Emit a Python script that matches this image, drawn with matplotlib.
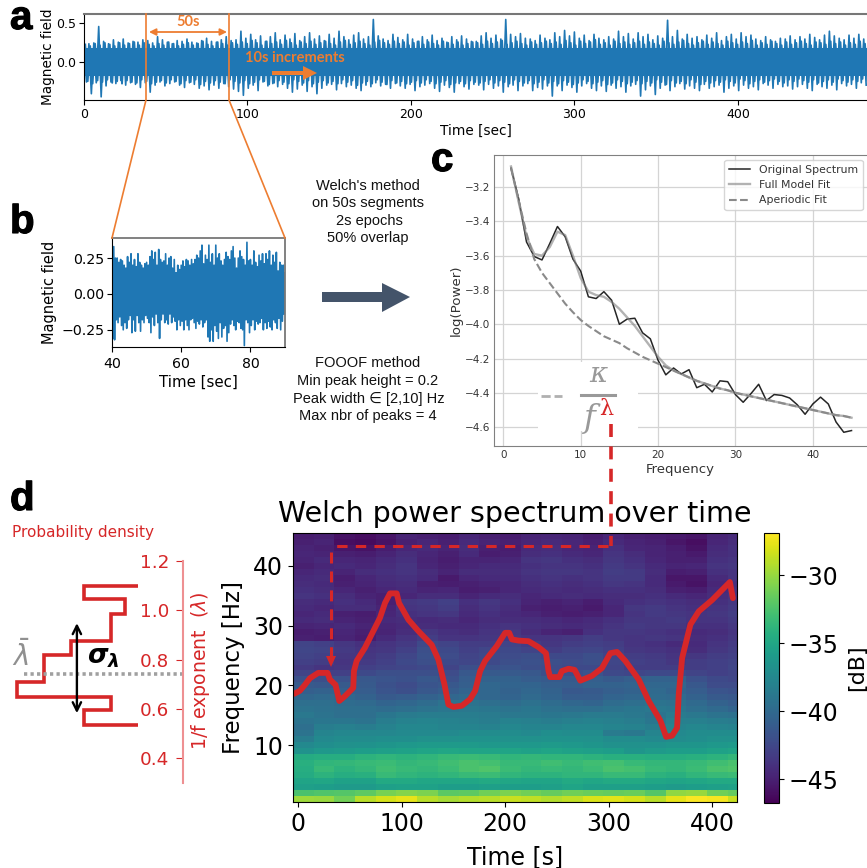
import numpy as np
import matplotlib
matplotlib.use('Agg')
import matplotlib.pyplot as plt
import matplotlib.patheffects as pe
from matplotlib.patches import Rectangle, Polygon

W, H = 867, 868

# panel a, signal envelope every 3 s (hundredths)
upper_a = [22,24,25,46,27,24,29,26,30,25,27,26,29,28,25,33,
           29,26,24,28,27,30,26,25,28,31,27,26,29,33,28,29,
           40,31,36,29,34,27,33,38,29,35,30,37,28,33,38,30,
           34,28,36,31,40,33,29,35,38,30,33,55,34,30,28,36,
           32,29,36,30,27,33,29,35,28,31,26,33,29,34,30,27,
           27,34,38,31,35,30,55,36,33,37,31,30,28,35,31,29,
           38,33,41,34,39,31,35,28,36,31,29,33,30,40,33,37,
           30,38,33,36,29,34,31,54,33,41,30,36,31,33,29,35,
           31,38,28,33,36,30,38,33,35,30,28,33,29,27,31,30,
           34,29,33,30,36,32,29,35,40,34,31,29,35,31,36,30]
lower_a = [25,40,26,44,30,25,27,23,29,26,28,32,26,38,29,25,
           30,27,25,29,32,26,28,33,30,35,29,33,27,31,34,37,
           42,33,29,36,25,30,27,31,28,33,38,34,29,37,31,40,
           33,29,28,35,27,31,29,33,36,29,31,26,30,28,33,27,
           30,33,28,36,31,29,27,33,37,29,32,38,27,31,34,28,
           29,35,28,33,30,38,31,29,36,30,27,36,32,34,30,43,
           30,36,29,32,38,30,27,33,36,30,37,29,33,31,38,30,
           28,43,35,30,41,33,29,36,31,27,34,30,33,36,28,33,
           31,29,38,33,30,36,29,33,31,35,27,29,33,28,31,30,
           34,31,28,33,36,28,31,33,29,35,27,30,28,33,26,29]
# the denser level just under the spikes (hundredths)
level_a = [23,21,24,22,25,23,21,25,22,24,26,22,25,23,21,24,
           22,26,24,21,23,25,22,24,27,23,21,26,24,22,25,23,
           26,24,28,25,22,27,24,26,23,28,25,22,26,24,27,23,
           25,27,24,22,26,28,23,25,27,24,22,26,28,25,23,27,
           24,26,22,25,27,23,26,24,22,27,25,23,26,22,24,26,
           25,23,27,24,26,28,23,25,27,24,22,26,23,25,27,24,
           26,23,28,25,22,27,24,26,29,23,25,22,27,24,26,23,
           25,27,23,26,24,22,27,25,23,26,28,24,22,25,27,23,
           26,24,22,27,25,23,26,24,28,22,25,23,27,24,22,26,
           23,25,27,24,22,26,25,23,27,24,26,22,25,23,27,24]

# panel b, signal envelope every 0.5 s (hundredths)
upper_b = [19,33,25,25,22,24,23,20,18,26,
           22,28,20,24,19,28,22,20,18,21,
           22,20,26,30,24,29,20,31,24,22,
           23,28,20,25,26,18,24,14,20,17,
           20,23,19,24,23,20,24,21,24,27,
           25,30,34,21,27,24,34,22,28,20,
           34,25,28,23,20,24,29,26,24,30,
           33,25,18,25,30,26,24,20,36,23,
           24,20,30,22,19,27,23,28,21,28,
           24,30,20,27,22,29,16,22,20,20]
lower_b = [31,32,18,20,16,22,25,20,24,18,
           15,27,18,26,15,20,26,18,20,15,
           17,20,27,16,22,14,20,31,18,14,
           20,18,21,14,20,16,19,25,18,22,
           19,25,18,22,25,18,17,20,24,19,
           21,18,23,20,18,30,33,25,33,22,
           26,31,20,30,24,22,33,27,21,18,
           22,25,19,20,24,25,36,18,20,27,
           22,18,25,19,21,20,17,25,20,24,
           19,23,25,18,20,24,17,25,19,14]

# panel c
freqs = list(range(1, 46))
spectrum = [-3.09,-3.27,-3.52,-3.605,-3.625,-3.53,-3.43,-3.49,-3.62,-3.69,-3.84,-3.85,-3.81,-3.86,-4.0,
            -3.97,-3.965,-4.05,-4.085,-4.21,-4.295,-4.255,-4.29,-4.265,-4.37,-4.35,-4.395,-4.33,-4.335,-4.41,
            -4.455,-4.405,-4.35,-4.445,-4.41,-4.415,-4.43,-4.47,-4.525,-4.465,-4.425,-4.465,-4.57,-4.63,-4.62]
model_fit = [-3.08,-3.29,-3.49,-3.59,-3.6,-3.55,-3.46,-3.48,-3.6,-3.73,-3.81,-3.83,-3.84,-3.87,-3.91,
             -3.96,-4.01,-4.07,-4.13,-4.19,-4.24,-4.27,-4.29,-4.31,-4.33,-4.345,-4.36,-4.375,-4.385,-4.4,
             -4.41,-4.42,-4.43,-4.44,-4.45,-4.46,-4.47,-4.48,-4.49,-4.5,-4.51,-4.52,-4.53,-4.535,-4.545]
aperiodic = [-3.09,-3.28,-3.47,-3.62,-3.7,-3.76,-3.82,-3.88,-3.93,-3.975,-4.01,-4.04,-4.07,-4.09,-4.11,
             -4.14,-4.165,-4.19,-4.21,-4.23,-4.25,-4.27,-4.29,-4.31,-4.33,-4.345,-4.36,-4.375,-4.385,-4.4,
             -4.41,-4.42,-4.43,-4.44,-4.45,-4.46,-4.47,-4.48,-4.49,-4.5,-4.51,-4.52,-4.53,-4.535,-4.545]

# panel d, histogram of the exponent
lambda_edges = [0.537,0.594,0.648,0.708,0.763,0.82,0.875,0.93,0.987,1.044,1.098]
density = [2,1,4.5,3.5,3.5,2.5,1,1,0.5,2]
lambda_mean = 0.742
lambda_low, lambda_high = 0.583, 0.948

# panel d, spectrogram in tenths of -dB, rows from 45 Hz down to 1 Hz, 20 s columns
spec_rows = [
    [452,450,458,460,456,448,450,452,446,450,452,448,446,448,452,446,450,452,454,456,448,444],
    [450,448,460,462,458,450,446,450,444,448,450,446,444,446,450,444,448,450,456,460,446,442],
    [448,450,456,458,452,446,444,448,442,450,452,444,442,446,448,440,446,448,452,458,444,440],
    [446,448,450,452,448,442,446,450,444,452,450,442,440,444,446,438,442,448,450,454,442,440],
    [448,444,446,448,444,440,448,452,448,448,446,438,436,440,442,436,440,446,450,450,440,438],
    [450,446,444,446,442,438,446,450,446,444,444,440,438,438,440,434,438,444,448,446,438,436],
    [446,444,448,442,440,438,442,448,442,442,442,438,436,436,438,432,434,442,452,450,440,438],
    [444,442,452,446,442,440,444,454,446,444,444,440,438,440,438,434,434,444,456,456,444,438],
    [442,444,450,448,444,442,450,452,450,448,446,442,440,442,440,436,438,444,454,458,446,440],
    [440,442,446,450,446,444,448,446,452,450,446,444,442,444,442,440,440,442,450,452,444,438],
    [438,440,442,448,450,446,442,442,448,444,442,446,444,442,444,442,442,440,444,446,442,438],
    [442,444,440,444,450,436,434,430,440,436,440,448,450,448,452,444,440,438,440,442,440,436],
    [444,446,442,442,448,438,436,432,442,438,442,450,452,450,454,446,436,434,438,440,438,434],
    [446,444,450,452,446,440,438,436,444,440,444,446,450,452,450,446,438,434,436,438,436,432],
    [444,442,448,450,444,442,444,442,446,442,442,442,444,446,444,440,436,436,434,438,438,434],
    [448,446,444,448,446,444,442,444,444,440,438,440,442,444,442,438,434,436,436,440,440,436],
    [452,450,446,450,448,442,436,440,442,438,436,442,448,450,440,436,436,438,440,444,442,438],
    [450,452,448,452,444,438,432,438,438,436,434,438,438,436,432,436,438,436,438,442,440,436],
    [428,430,436,440,438,434,424,428,432,432,428,432,436,432,430,432,438,440,444,444,438,434],
    [426,428,434,438,436,430,420,424,430,426,424,428,432,428,426,430,436,438,440,442,436,432],
    [428,430,436,436,432,426,418,422,428,424,422,420,424,424,420,428,432,434,438,436,432,430],
    [430,432,438,434,430,424,420,424,426,424,420,418,420,422,420,426,430,432,436,432,430,428],
    [434,438,436,430,428,426,424,428,420,418,416,420,422,424,424,428,432,432,432,432,430,426],
    [428,430,430,424,420,420,420,422,414,412,412,414,420,420,416,424,426,424,424,428,430,428],
    [418,420,418,414,416,418,414,418,410,406,406,410,412,412,408,412,408,406,406,418,424,426],
    [412,414,412,412,418,422,416,414,408,402,404,404,408,410,406,406,404,402,402,414,422,422],
    [408,406,408,410,416,420,414,410,404,402,406,402,406,414,412,408,406,400,404,410,416,418],
    [402,400,402,406,412,410,406,402,400,402,404,400,404,410,410,404,402,398,400,406,412,414],
    [396,396,398,400,404,402,398,392,392,396,398,394,398,402,404,398,396,392,394,400,406,410],
    [392,394,396,396,398,396,392,390,388,390,392,390,394,396,396,392,390,388,390,396,400,404],
    [388,392,396,396,390,386,384,384,384,386,388,388,390,388,386,386,388,392,386,388,392,394],
    [392,390,390,392,384,380,378,380,382,384,380,382,384,382,380,382,384,390,382,382,384,386],
    [396,384,382,384,380,376,376,378,378,380,376,378,378,376,376,378,380,384,378,376,378,380],
    [392,378,376,376,376,374,374,374,372,372,372,374,370,372,372,386,388,378,374,372,372,372],
    [384,374,372,372,370,370,368,368,366,366,368,368,366,366,368,372,372,374,372,370,368,368],
    [374,370,368,366,364,362,360,360,360,362,362,362,360,362,364,368,368,366,364,364,362,360],
    [366,362,360,358,356,354,352,350,352,352,352,354,352,354,356,358,364,360,358,358,354,352],
    [346,344,344,340,338,340,338,334,332,334,338,336,338,338,340,342,342,344,344,342,340,336],
    [342,338,336,334,332,336,334,330,326,328,334,334,330,334,330,328,334,336,336,334,330,326],
    [344,334,340,336,330,334,336,332,326,324,332,336,334,336,332,326,328,334,336,332,326,324],
    [346,340,344,342,334,338,340,338,334,332,338,340,340,338,338,334,334,340,342,338,334,332],
    [352,350,354,354,348,348,350,350,350,348,350,352,352,348,350,348,348,350,352,350,348,348],
    [356,358,360,360,356,354,354,358,358,356,358,358,356,352,356,356,356,358,360,358,356,354],
    [326,324,322,318,310,306,308,320,318,312,308,312,316,312,314,316,314,322,302,300,312,316],
    [298,300,312,290,282,276,290,296,292,290,286,288,292,288,280,278,282,290,276,270,272,286],
]

# red curve drawn over the spectrogram
curve_t = [-3.9,1.6,6.5,11.3,19.4,28.4,30.6,36.1,39.7,45.2,53.2,53.9,56.5,64.5,72.6,79,83.9,88.7,95.2,97.4,
           106.5,116.1,129,135.5,141.3,145.2,150,158.1,166.1,171,175.8,180.6,191.9,200,203.9,206.5,212.9,222.6,
           232.3,239.4,241.9,243.5,252.3,254.8,261.3,267.1,272.6,283.9,293.5,301.6,308.1,316.1,329,338.7,350,
           355.5,361.3,366.1,367.7,371,379,387.1,400,409.7,417.1,420]
curve_f = [18.6,19.1,20.1,21.2,22.1,22.1,21,20.1,17.4,18.2,19.6,22.4,24.1,26.3,29.1,31.3,33.8,35.4,35.4,33.8,
           31,29.1,26.8,24.3,20.2,16.8,16.4,16.6,17.7,19.1,22.4,24.1,26.6,28.8,28.8,27.7,27.5,27.4,
           26.4,25.4,22.4,21.4,21.4,22.4,22.8,22.6,20.8,21.6,22.9,25.4,25.6,24.1,21,17.4,14.1,
           11.4,11.6,12.9,18.5,24.6,30.2,32.4,34.3,36,37.3,34.6]

BLUE = '#1f77b4'
ORANGE = '#ed7d31'
RED = '#d62728'
SLATE = '#44546a'
ARIAL = ['Liberation Sans', 'DejaVu Sans']


def px_axes(left, top, right, bottom):
    return fig.add_axes([left/W, 1-bottom/H, (right-left)/W, (bottom-top)/H])


def zigzag(t, up, low):
    x = np.column_stack([t, t+(t[1]-t[0])/2]).ravel()
    y = np.column_stack([np.array(up)/100, -np.array(low)/100]).ravel()
    return x, y


fig = plt.figure(figsize=(W/100, H/100), dpi=100)

# a
ax_a = px_axes(84, 14, 867, 100)
t_a = np.arange(len(upper_a))*3.0
x, y = zigzag(t_a, upper_a, lower_a)
ax_a.plot(x, y, color=BLUE, lw=1.2)
x, y = zigzag(t_a+0.75, level_a, level_a[::-1])
ax_a.plot(x, y, color=BLUE, lw=1.4)
ax_a.fill_between([0, 480], -0.17, 0.18, color=BLUE, lw=0)
ax_a.set_xlim(0, 479)
ax_a.set_ylim(-0.48, 0.62)
ax_a.set_yticks([0, 0.5])
ax_a.set_xticks([0, 100, 200, 300, 400])
ax_a.tick_params(labelsize=9, pad=2)
ax_a.set_xlabel('Time [sec]', fontsize=9.8, labelpad=2)
ax_a.set_ylabel('Magnetic field', fontsize=9.8, labelpad=1)
ax_a.spines['right'].set_visible(False)
ax_a.spines['top'].set_color('#777777')
ax_a.spines['top'].set_linewidth(1.5)

# b
ax_b = px_axes(112, 238, 285, 347)
t_b = 40+np.arange(len(upper_b))*0.5
x, y = zigzag(t_b, upper_b, lower_b)
ax_b.plot(x, y, color=BLUE, lw=1.2)
ax_b.fill_between([40, 90], -0.14, 0.15, color=BLUE, lw=0)
ax_b.set_xlim(40, 90)
ax_b.set_ylim(-0.37, 0.39)
ax_b.set_xticks([40, 60, 80])
ax_b.set_yticks([-0.25, 0, 0.25])
ax_b.set_yticklabels(['\u22120.25', '0.00', '0.25'])
ax_b.tick_params(labelsize=10.2, pad=3.5)
ax_b.tick_params(axis='y', pad=2)
ax_b.set_xlabel('Time [sec]', fontsize=10.8, labelpad=3)
ax_b.set_ylabel('Magnetic field', fontsize=10.5, labelpad=3)
for side in ['top', 'right']:
    ax_b.spines[side].set_color('#777777')
    ax_b.spines[side].set_linewidth(1.3)

# c
ax_c = px_axes(494, 155, 867, 446)
ax_c.plot(freqs, spectrum, color='black', lw=1.1, alpha=0.85, label='Original Spectrum')
ax_c.plot(freqs, model_fit, color='gray', lw=1.7, alpha=0.6, label='Full Model Fit')
ax_c.plot(freqs, aperiodic, color='#8a8a8a', lw=1.5, ls='--', label='Aperiodic Fit')
ax_c.set_xlim(-1.2, 47)
ax_c.set_ylim(-4.71, -3.013)
ax_c.set_xticks([0, 10, 20, 30, 40])
ax_c.set_yticks([-4.6, -4.4, -4.2, -4.0, -3.8, -3.6, -3.4, -3.2])
ax_c.grid(True, color='#d4d4d4', lw=0.9)
ax_c.set_axisbelow(True)
ax_c.tick_params(labelsize=7.5, length=0, pad=3, labelcolor='#333333')
ax_c.set_xlabel('Frequency', fontsize=9.5, color='#333333', labelpad=2)
ax_c.set_ylabel('log(Power)', fontsize=9.6, color='#333333', labelpad=1)
for side in ax_c.spines:
    ax_c.spines[side].set_color('#808080')
ax_c.spines['right'].set_visible(False)
leg = ax_c.legend(fontsize=7.8, loc='upper right', bbox_to_anchor=(0.988, 0.982), borderaxespad=0, labelcolor='#333333')
ax_c.add_patch(Rectangle((4.5, -4.62), 12.9, 0.4, color='white', lw=0, zorder=1.5))

# d spectrogram
ax_d = px_axes(293, 533, 737, 802)
spec_db = -np.array(spec_rows[::-1])/10
time_edges = np.arange(-5, 436, 20)
freq_edges = np.arange(0.5, 46)
mesh = ax_d.pcolormesh(time_edges, freq_edges, spec_db, cmap='viridis', vmin=-46.76, vmax=-26.9)
ax_d.plot(curve_t, curve_f, color=RED, lw=4.2, solid_capstyle='round', solid_joinstyle='round')
ax_d.set_xlim(-5, 424)
ax_d.set_ylim(0.5, 45.5)
ax_d.set_xticks([0, 100, 200, 300, 400])
ax_d.set_yticks([10, 20, 30, 40])
ax_d.tick_params(labelsize=17)
ax_d.set_xlabel('Time [s]', fontsize=17, labelpad=7)
ax_d.set_ylabel('Frequency [Hz]', fontsize=16.5, labelpad=6)
ax_d.set_title('Welch power spectrum over time', fontsize=20.5, pad=8)

cax = px_axes(764, 533, 779, 803)
cb = fig.colorbar(mesh, cax=cax)
cb.set_ticks([-45, -40, -35, -30])
cb.ax.tick_params(labelsize=17)
cb.set_label('[dB]', fontsize=16, labelpad=6)

# d histogram, sideways, with its own axis on the right
ax_h = px_axes(0, 561, 183, 783)
ax_h.patch.set_alpha(0)
ax_h.stairs(density, lambda_edges, orientation='horizontal', baseline=0, color=RED, lw=2.6)
ax_h.set_xlim(5.15, -1.68)
ax_h.set_ylim(0.30, 1.2)
ax_h.set_xticks([])
ax_h.set_yticks([0.4, 0.6, 0.8, 1.0, 1.2])
ax_h.yaxis.tick_right()
ax_h.tick_params(axis='y', direction='in', length=5, pad=-10, labelsize=13.2, colors=RED)
for lab in ax_h.get_yticklabels():
    lab.set_ha('right')
for side in ['top', 'left', 'bottom']:
    ax_h.spines[side].set_visible(False)
ax_h.spines['right'].set_color('#ee9092')
ax_h.spines['right'].set_linewidth(1.5)
ax_h.plot([4.25, -1.65], [lambda_mean, lambda_mean], color='#a0a0a0', lw=2.6, ls=(0, (0.9, 0.9)))
ax_h.annotate('', xy=(2.28, lambda_low), xytext=(2.28, lambda_high),
              arrowprops=dict(arrowstyle='<->', color='black', lw=1.7, shrinkA=0, shrinkB=0, mutation_scale=15))

# annotation layer in pixel coordinates
ov = fig.add_axes([0, 0, 1, 1], zorder=10)
ov.set_xlim(0, W)
ov.set_ylim(H, 0)
ov.axis('off')
ov.patch.set_alpha(0)

ov.text(200, 671, '1/f exponent  ($\\lambda$)', color=RED, fontsize=13.6, rotation=90, ha='center', va='center')
ov.text(12, 532, 'Probability density', color=RED, fontsize=11, ha='left', va='center')
ov.text(21, 656, '$\\bar{\\lambda}$', color='#909090', fontsize=20, ha='center', va='center')
ov.text(103, 657, r'$\mathbfit{\sigma_\lambda}$', color='black', fontsize=19, ha='center', va='center')

# zoom lines between a and b
ov.plot([146, 146, 112], [14, 100, 238], color=ORANGE, lw=1.2)
ov.plot([229, 229, 285], [14, 100, 238], color=ORANGE, lw=1.2)
ov.annotate('', xy=(149, 32), xytext=(227, 32),
            arrowprops=dict(arrowstyle='<|-|>', color=ORANGE, lw=1.3, shrinkA=0, shrinkB=0, mutation_scale=10))
ov.text(188, 22, '50s', color=ORANGE, fontsize=10.5, fontweight='bold', family='Lato', ha='center', va='center')
ov.text(295, 57.5, '10s increments', color=ORANGE, fontsize=10.5, fontweight='bold', family='Lato', ha='center', va='center')
ov.add_patch(Polygon([(272, 71), (303, 71), (303, 66), (317, 73), (303, 80), (303, 75), (272, 75)], color=ORANGE, lw=0))

# big arrow
ov.add_patch(Polygon([(322, 292), (382, 292), (382, 283), (410, 297), (382, 312), (382, 302), (322, 302)], color=SLATE, lw=0))

# method text
for txt, xpx, ypx in [("Welch's method", 367.5, 186), ('on 50s segments', 367.7, 203), ('2s epochs', 369.7, 221),
                      ('50% overlap', 367.5, 238), ('FOOOF method', 367.5, 363), ('Min peak height = 0.2', 367.5, 381),
                      ('Peak width \u2208 [2,10] Hz', 369, 399), ('Max nbr of peaks = 4', 367.5, 416)]:
    ov.text(xpx, ypx, txt, fontsize=10.5, family=ARIAL, ha='center', va='center', color='#111111')

# formula in panel c
ov.plot([541, 562], [396, 396], color='#b0b0b0', lw=2, ls=(0, (3.3, 1.4)))
ov.plot([581, 615], [394.5, 394.5], color='#999999', lw=2.2)
ov.text(598, 375, '\u03ba', color='#999999', fontsize=20, family='DejaVu Serif', style='italic', ha='center', va='center')
ov.text(590, 418, 'f', color='#999999', fontsize=23, family='DejaVu Serif', style='italic', ha='center', va='center')
ov.text(606, 409, '\u03bb', color=RED, fontsize=16, family='DejaVu Serif', ha='center', va='center')

# red dashed path from c to d
ov.plot([611, 611], [424, 546], color=RED, lw=2.6, ls=(0, (3.6, 2.6)))
ov.plot([608, 336], [545.5, 545.5], color=RED, lw=2.2, ls=(0, (3.4, 2.7)))
ov.plot([331, 331], [552, 657], color=RED, lw=2.2, ls=(0, (3.6, 2.6)))
ov.add_patch(Polygon([(326, 656), (336, 656), (331, 667)], color=RED, lw=0))

# panel letters
for letter, xpx, ypx in [('a', 10, 29), ('b', 10, 233), ('c', 431, 171), ('d', 10, 510)]:
    ov.text(xpx, ypx, letter, fontsize=29, fontweight='bold', family='Liberation Sans', ha='left', va='baseline',
            path_effects=[pe.withStroke(linewidth=0.8, foreground='black')])

fig.savefig('out.png', dpi=100)
